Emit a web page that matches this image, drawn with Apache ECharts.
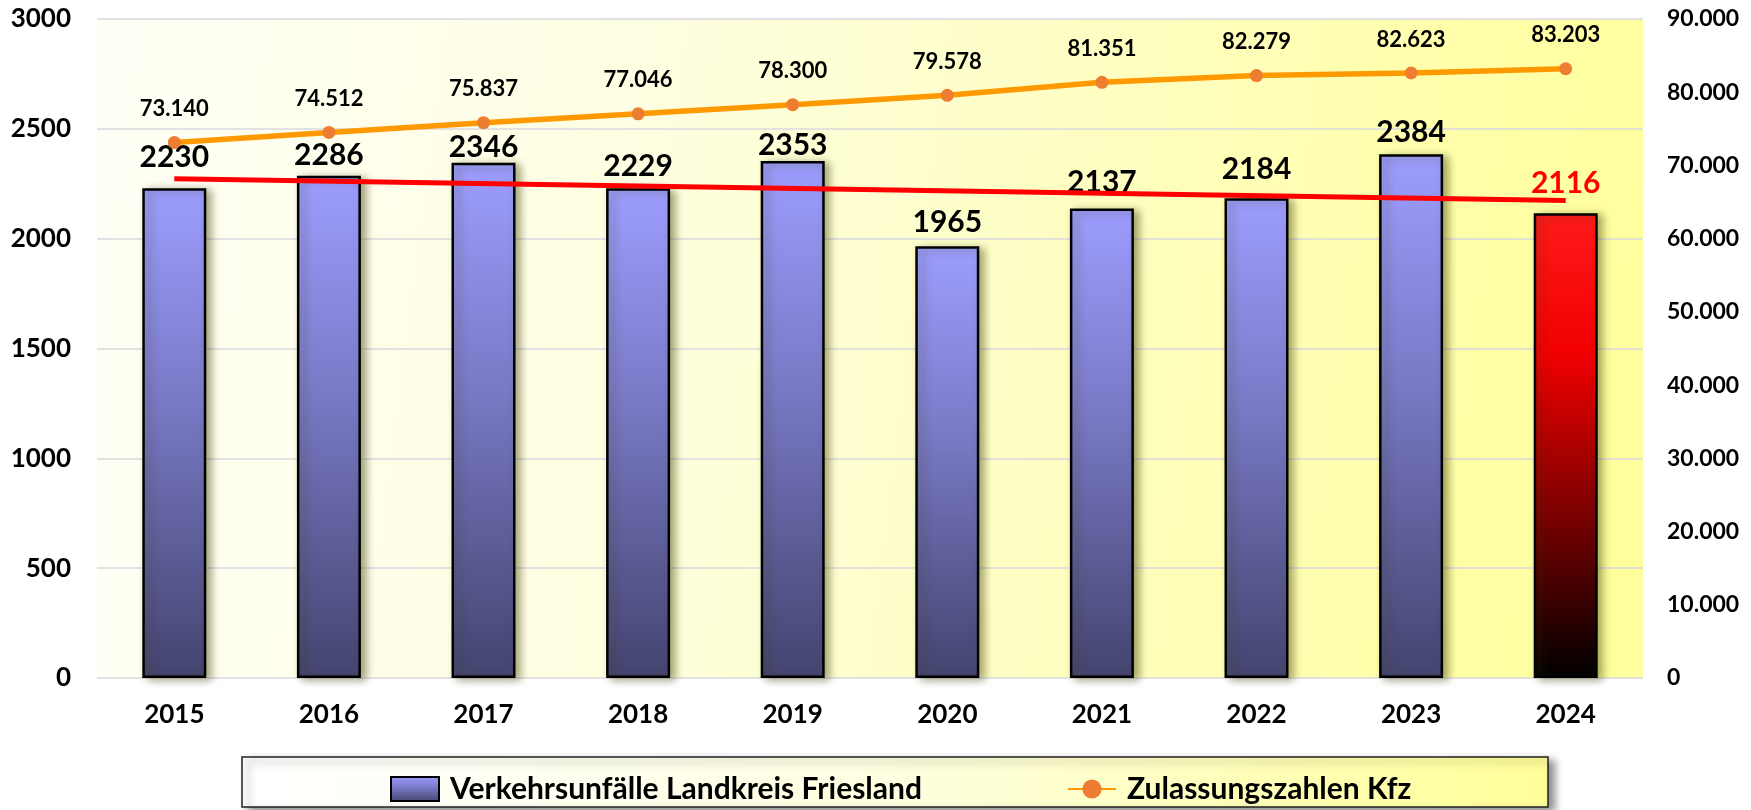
<!DOCTYPE html>
<html>
<head>
<meta charset="utf-8">
<script src="https://cdn.jsdelivr.net/npm/echarts@6/dist/echarts.min.js"></script>
<style>
  html, body { margin: 0; padding: 0; background: #fff; }
  #chart { width: 1751px; height: 810px; }
</style>
</head>
<body>
<div id="chart"></div>
<script>
// values
var years = ['2015', '2016', '2017', '2018', '2019', '2020', '2021', '2022', '2023', '2024'];
var unfaelle = [2230, 2286, 2346, 2229, 2353, 1965, 2137, 2184, 2384, 2116];
var zulassungen = [73140, 74512, 75837, 77046, 78300, 79578, 81351, 82279, 82623, 83203];
// trend line of the accidents, start and end
var trendStart = 2273;
var trendEnd = 2174;

// the bar labels sit at slightly different heights in the original
var labelGap = [16, 6, 0, 7, 1, 9, 11, 14, 7, 15];

var FONT = 'Lato';

function deNum(v) {
    return String(v).replace(/\B(?=(\d{3})+(?!\d))/g, '.');
}

var blueBar = new echarts.graphic.LinearGradient(0, 0, 0, 1, [
    {offset: 0, color: '#9D9DFF'},
    {offset: 0.45, color: '#7878C4'},
    {offset: 1, color: '#44446F'}
]);
var redBar = new echarts.graphic.LinearGradient(0, 0, 0, 1, [
    {offset: 0, color: '#FF1A1A'},
    {offset: 0.3, color: '#F20000'},
    {offset: 0.65, color: '#7A0000'},
    {offset: 1, color: '#000000'}
]);

var barData = unfaelle.map(function (v, i) {
    var last = i === unfaelle.length - 1;
    return {
        value: v,
        itemStyle: {color: last ? redBar : blueBar},
        label: {color: last ? '#FF0000' : '#000', distance: labelGap[i]}
    };
});

var trendData = years.map(function (y, i) {
    if (i === 0) return trendStart;
    if (i === years.length - 1) return trendEnd;
    return null;
});

var chart = echarts.init(document.getElementById('chart'));
chart.setOption({
    animation: false,
    textStyle: {fontFamily: FONT},
    grid: {
        show: true,
        left: 97,
        right: 108,
        top: 19,
        bottom: 132,
        borderWidth: 0,
        backgroundColor: new echarts.graphic.LinearGradient(0, 0, 1, 0.3, [
            {offset: 0, color: '#FFFFF6'},
            {offset: 0.35, color: '#FEFEE2'},
            {offset: 0.7, color: '#FEFEBC'},
            {offset: 1, color: '#FFFF9E'}
        ])
    },
    graphic: [{
        type: 'rect',
        z: -1,
        shape: {x: 242, y: 757, width: 1306, height: 50},
        style: {
            fill: new echarts.graphic.LinearGradient(0, 0, 1, 0, [
                {offset: 0, color: '#FFFFFF'},
                {offset: 0.5, color: '#FEFEE0'},
                {offset: 1, color: '#FFFF99'}
            ]),
            stroke: '#222',
            lineWidth: 1.5,
            shadowBlur: 8,
            shadowOffsetX: 6,
            shadowOffsetY: 4,
            shadowColor: 'rgba(0,0,0,0.45)'
        }
    }],
    legend: {
        left: 385,
        top: 769,
        itemWidth: 48,
        itemHeight: 24,
        itemGap: 145,
        textStyle: {
            fontFamily: FONT,
            fontWeight: 'bold',
            fontSize: 30,
            color: '#000',
            padding: [0, 0, 0, 6]
        },
        data: [
            {name: 'Verkehrsunfälle Landkreis Friesland', icon: 'rect', itemStyle: {borderColor: '#000', borderWidth: 2}},
            {name: 'Zulassungszahlen Kfz'}
        ]
    },
    xAxis: {
        type: 'category',
        data: years,
        axisLine: {show: false},
        axisTick: {show: false},
        axisLabel: {
            color: '#000',
            fontFamily: FONT,
            fontWeight: 'bold',
            fontSize: 26,
            margin: 24
        }
    },
    yAxis: [{
        type: 'value',
        min: 0,
        max: 3000,
        interval: 500,
        axisLine: {show: false},
        axisTick: {show: false},
        splitLine: {lineStyle: {color: '#D8D8E0', width: 1.5}},
        axisLabel: {
            color: '#000',
            fontFamily: FONT,
            fontWeight: 'bold',
            fontSize: 26,
            margin: 26,
            formatter: function (v) { return String(v); }
        }
    }, {
        type: 'value',
        min: 0,
        max: 90000,
        interval: 10000,
        axisLine: {show: false},
        axisTick: {show: false},
        splitLine: {show: false},
        axisLabel: {
            color: '#000',
            fontFamily: FONT,
            fontWeight: 'bold',
            fontSize: 23,
            margin: 24,
            formatter: function (v) { return deNum(v); }
        }
    }],
    series: [{
        name: 'Verkehrsunfälle Landkreis Friesland',
        type: 'bar',
        barWidth: 64,
        data: barData,
        itemStyle: {
            color: blueBar,
            borderColor: '#000',
            borderWidth: 2.5,
            shadowBlur: 8,
            shadowOffsetX: 5,
            shadowOffsetY: 2,
            shadowColor: 'rgba(60,60,0,0.45)'
        },
        label: {
            show: true,
            position: 'top',
            fontFamily: FONT,
            fontWeight: 'bold',
            fontSize: 30,
            color: '#000'
        }
    }, {
        name: 'Trend',
        type: 'line',
        data: trendData,
        connectNulls: true,
        symbol: 'none',
        z: 3,
        lineStyle: {color: '#FF0000', width: 5},
        silent: true
    }, {
        name: 'Zulassungszahlen Kfz',
        type: 'line',
        yAxisIndex: 1,
        data: zulassungen,
        z: 4,
        symbol: 'circle',
        symbolSize: 13,
        color: '#FF9900',
        lineStyle: {color: '#FF9900', width: 5.5},
        itemStyle: {color: '#ED7D31', borderWidth: 0},
        label: {
            show: true,
            position: 'top',
            distance: 16,
            fontFamily: FONT,
            fontWeight: 'bold',
            fontSize: 22,
            color: '#000',
            formatter: function (p) { return deNum(p.value); }
        }
    }]
});
</script>
</body>
</html>
